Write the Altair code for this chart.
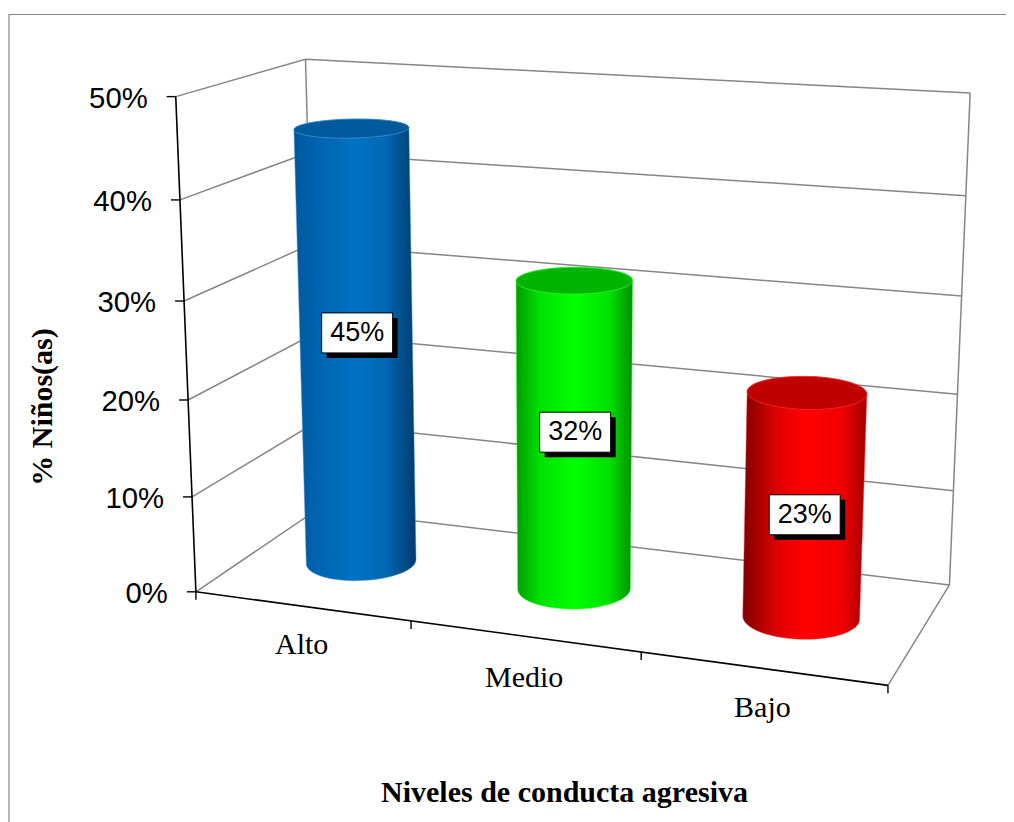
import altair as alt
import numpy as np
import pandas as pd

# ---- chart data ----
CATEGORIES = ["Alto", "Medio", "Bajo"]
VALUES = [45.45, 31.82, 22.73]
VALUE_LABELS = ["45%", "32%", "23%"]
LABEL_HEIGHTS = [24.5, 16.4, 10.5]      # height (in %) at which each data label sits
TICKS = [0, 10, 20, 30, 40, 50]
TICK_LABELS = ["0%", "10%", "20%", "30%", "40%", "50%"]
X_TITLE = "Niveles de conducta agresiva"
Y_TITLE = "% Niños(as)"

# ---- styles ----
BODY_STOPS = [
    [("#00589f", 0), ("#0064b0", .2), ("#0072c4", .5), ("#0068b4", .75), ("#003c6c", 1)],
    [("#009c00", 0), ("#00e000", .2), ("#00ff00", .5), ("#00e000", .8), ("#009000", 1)],
    [("#800000", 0), ("#e00000", .28), ("#ff0000", .5), ("#f00000", .8), ("#a00000", 1)],
]
TOP_COLORS = ["#005a9c", "#00b400", "#c00000"]
RIM_COLORS = ["#4f94d4", "#30ff30", "#ff3030"]
GRID = "#868686"
CAT_DY = [39, 42, 40]

# ---- perspective of the 3D frame: (category pos, depth, %) seen at (px, py) ----
CAL_3D = [(0, 0, h) for h in TICKS] + [(0, 1, h) for h in TICKS] + [(3, 1, h) for h in TICKS] + [
    (3, 0, 0), (1, 0, 0), (2, 0, 0)]
CAL_PX = [(196, 592), (192, 497), (188, 399.5), (184, 301), (180, 199.5), (176, 97),
          (318, 509), (315.5, 422.5), (313, 334.5), (310, 244.5), (308, 153), (305.5, 59),
          (950, 585), (953.3, 490.7), (957, 394), (961, 296), (965.7, 195.7), (971, 93.3),
          (888, 685), (411, 621), (641, 652.5)]

A, b = [], []
for (u, d, h), (px, py) in zip(CAL_3D, CAL_PX):
    A.append([u, d, h, 1, 0, 0, 0, 0, -u * px, -d * px, -h * px]); b.append(px)
    A.append([0, 0, 0, 0, u, d, h, 1, -u * py, -d * py, -h * py]); b.append(py)
p = np.linalg.lstsq(np.array(A, float), np.array(b, float), rcond=None)[0]
P = np.append(p, 1.0).reshape(3, 4)


def proj(u, d, h):
    v = P @ np.array([u, d, h, 1.0])
    return float(v[0] / v[2]), float(v[1] / v[2])


def path(points):
    return pd.DataFrame({"x": [a for a, _ in points], "y": [c for _, c in points],
                         "i": list(range(len(points)))})


X = alt.X("x:Q", scale=alt.Scale(domain=[8, 1006], nice=False, zero=False), axis=None)
Y = alt.Y("y:Q", scale=alt.Scale(domain=[822, 8], nice=False, zero=False), axis=None)


def line(points, **kw):
    return alt.Chart(path(points)).mark_line(**kw).encode(x=X, y=Y, order="i:Q")


def label(rows, **kw):
    return alt.Chart(pd.DataFrame(rows)).mark_text(**kw).encode(x=X, y=Y, text="t:N")


def hull(pts):
    pts = sorted(set(pts))
    def half(seq):
        out = []
        for q in seq:
            while len(out) > 1 and ((out[-1][0] - out[-2][0]) * (q[1] - out[-2][1])
                                    - (out[-1][1] - out[-2][1]) * (q[0] - out[-2][0])) <= 0:
                out.pop()
            out.append(q)
        return out[:-1]
    return half(pts) + half(pts[::-1])


layers = []

# outer chart border
layers.append(line([(9, 822), (9, 14.5), (1006, 14.5)], color=GRID, strokeWidth=1.2))

# walls and floor
for h in TICKS:
    layers.append(line([proj(0, 0, h), proj(0, 1, h), proj(3, 1, h)], color=GRID, strokeWidth=1.5))
layers.append(line([proj(0, 1, 0), proj(0, 1, TICKS[-1])], color=GRID, strokeWidth=1.5))
layers.append(line([proj(3, 1, 0), proj(3, 1, TICKS[-1])], color=GRID, strokeWidth=1.5))
layers.append(line([proj(3, 1, 0), proj(3, 0, 0)], color=GRID, strokeWidth=1.5))

# axes and tick marks
layers.append(line([proj(0, 0, 0), proj(0, 0, TICKS[-1])], color="black", strokeWidth=1.6))
layers.append(line([proj(0, 0, 0), proj(3, 0, 0)], color="black", strokeWidth=1.6))
for h in TICKS:
    x0, y0 = proj(0, 0, h)
    layers.append(line([(x0 - 9, y0), (x0, y0)], color="black", strokeWidth=1.4))
for u in range(len(CATEGORIES) + 1):
    x0, y0 = proj(u, 0, 0)
    layers.append(line([(x0, y0), (x0, y0 + 8)], color="black", strokeWidth=1.4))

# cylinders
RU, RD = 0.24, 0.21
T = np.linspace(0, 2 * np.pi, 73)
for i, v in enumerate(VALUES):
    uc = i + 0.5
    bottom = [proj(uc + RU * np.cos(t), 0.5 + RD * np.sin(t), 0) for t in T]
    top = [proj(uc + RU * np.cos(t), 0.5 + RD * np.sin(t), v) for t in T]
    body = hull(bottom + top)
    body.append(body[0])
    grad = {"gradient": "linear", "x1": 0, "x2": 1, "y1": 0, "y2": 0,
            "stops": [{"color": c, "offset": o} for c, o in BODY_STOPS[i]]}
    layers.append(line(body, fill=grad, stroke=RIM_COLORS[i], strokeWidth=0.8, strokeOpacity=0.6))
    layers.append(line(top, fill=TOP_COLORS[i], stroke=RIM_COLORS[i], strokeWidth=1, strokeOpacity=0.7))

# data labels with a hard shadow
BW, BH, SH = 71, 40, 5
for i, (h, t) in enumerate(zip(LABEL_HEIGHTS, VALUE_LABELS)):
    cx, cy = proj(i + 0.5, 0.5, h)
    cx += 1
    shadow = pd.DataFrame([{"x": cx - BW / 2 + SH, "x2": cx + BW / 2 + SH,
                            "y": cy - BH / 2 + SH, "y2": cy + BH / 2 + SH}])
    box = pd.DataFrame([{"x": cx - BW / 2, "x2": cx + BW / 2,
                         "y": cy - BH / 2, "y2": cy + BH / 2}])
    layers.append(alt.Chart(shadow).mark_rect(color="black").encode(x=X, x2="x2:Q", y=Y, y2="y2:Q"))
    layers.append(alt.Chart(box).mark_rect(fill="white", stroke="black", strokeWidth=1)
                  .encode(x=X, x2="x2:Q", y=Y, y2="y2:Q"))
    layers.append(label([{"x": cx, "y": cy, "t": t}], font="Liberation Sans", fontSize=27,
                        color="black", align="center", baseline="middle"))

# tick labels, category labels, titles
tick_rows = [{"x": proj(0, 0, h)[0] - 28, "y": proj(0, 0, h)[1] + 2, "t": t}
             for h, t in zip(TICKS, TICK_LABELS)]
layers.append(label(tick_rows, font="Liberation Sans", fontSize=29.3, color="black",
                    align="right", baseline="middle"))
cat_rows = [{"x": proj(i + 0.5, 0, 0)[0], "y": proj(i + 0.5, 0, 0)[1] + CAT_DY[i], "t": c}
            for i, c in enumerate(CATEGORIES)]
layers.append(label(cat_rows, font="Liberation Serif", fontSize=30, color="black",
                    align="center", baseline="middle"))
layers.append(label([{"x": 564.5, "y": 793, "t": X_TITLE}], font="Liberation Serif", fontSize=30,
                    fontWeight="bold", color="black", align="center", baseline="middle"))
layers.append(label([{"x": 43, "y": 407, "t": Y_TITLE}], font="Liberation Serif", fontSize=30,
                    fontWeight="bold", color="black", align="center", baseline="middle", angle=270))

chart = alt.layer(*layers).properties(
    width=998, height=814, padding=0, autosize=alt.AutoSizeParams(type="none"),
    background="white",
).configure_view(stroke=None)

chart.save("out.html", embed_options={"renderer": "svg", "actions": False})
